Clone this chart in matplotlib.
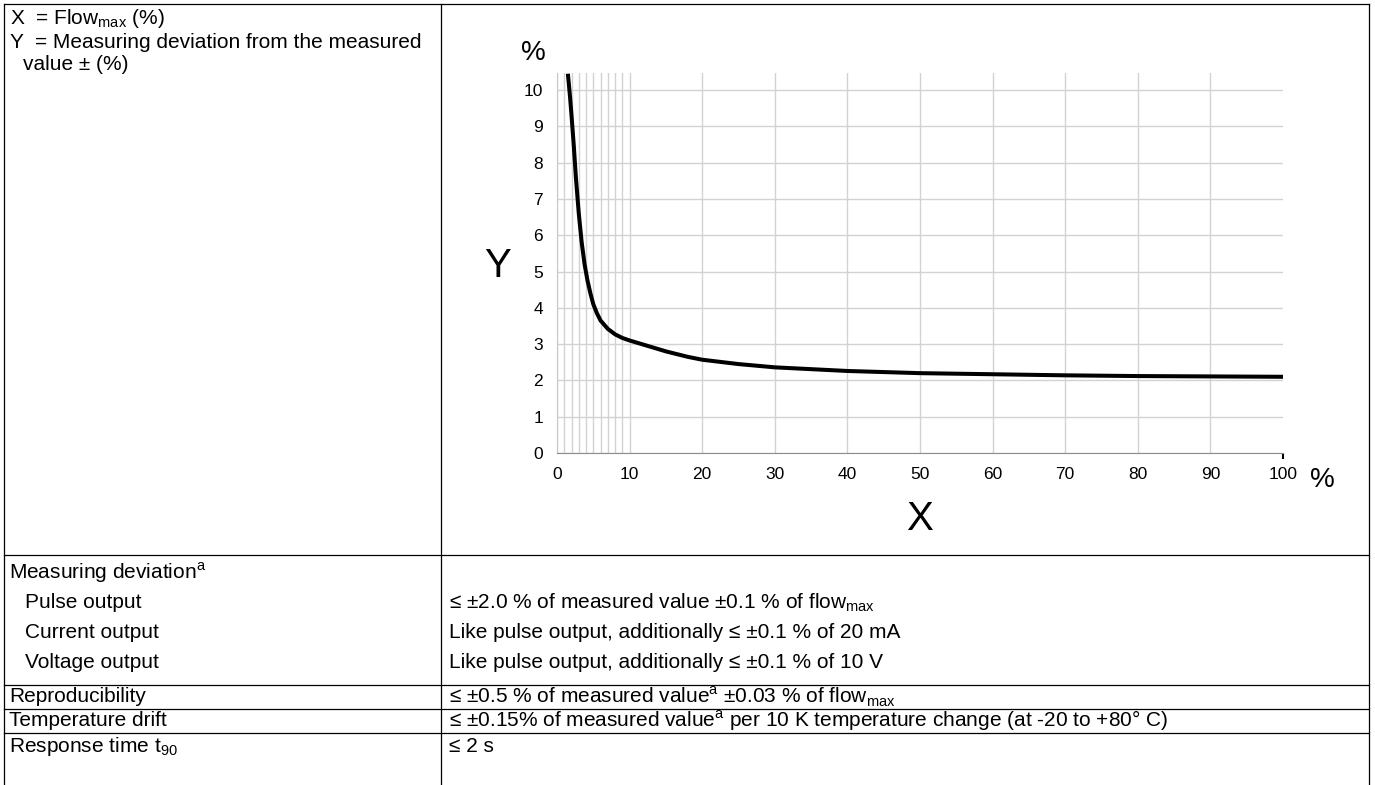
import matplotlib.pyplot as plt

plt.rcParams["font.family"] = ["Liberation Sans", "DejaVu Sans"]
plt.rcParams["mathtext.fontset"] = "custom"
plt.rcParams["mathtext.rm"] = "Liberation Sans"

# curve: flow (% of flow_max) vs deviation (%)
flow_pct = [1.5, 1.8, 2.0, 2.3, 2.6, 3.0, 3.4, 3.8, 4.2, 4.6, 5.0, 5.5, 6.0, 7.0, 8.0,
            9.0, 10, 12, 15, 18, 20, 25, 30, 40, 50, 60, 70, 80, 90, 100]
deviation_pct = [10.45, 9.8, 9.3, 8.5, 7.6, 6.6, 5.8, 5.2, 4.75, 4.4, 4.1, 3.85, 3.65,
                 3.42, 3.27, 3.17, 3.1, 2.98, 2.8, 2.65, 2.57, 2.45, 2.36, 2.26,
                 2.2, 2.17, 2.14, 2.12, 2.11, 2.1]

x_major = list(range(0, 101, 10))
x_minor = list(range(1, 10))
y_major = list(range(0, 11))

legend_lines = [
    "X  = Flow$_\\mathregular{max}$ (%)",
    "Y  = Measuring deviation from the measured",
    "value ± (%)",
]

left_col = [
    "Measuring deviation$^\\mathregular{a}$",
    "Pulse output",
    "Current output",
    "Voltage output",
    "Reproducibility",
    "Temperature drift",
    "Response time t$_\\mathregular{90}$",
]
right_col = [
    "",
    "≤ ±2.0 % of measured value ±0.1 % of flow$_\\mathregular{max}$",
    "Like pulse output, additionally ≤ ±0.1 % of 20 mA",
    "Like pulse output, additionally ≤ ±0.1 % of 10 V",
    "≤ ±0.5 % of measured value$^\\mathregular{a}$ ±0.03 % of flow$_\\mathregular{max}$",
    "≤ ±0.15% of measured value$^\\mathregular{a}$ per 10 K temperature change (at -20 to +80° C)",
    "≤ 2 s",
]
indented = [False, True, True, True, False, False, False]

W, H = 1375, 785
fig = plt.figure(figsize=(W / 100, H / 100), dpi=100)

# overlay in pixel coordinates for the table frame and texts
ov = fig.add_axes([0, 0, 1, 1])
ov.set_xlim(0, W)
ov.set_ylim(H, 0)
ov.axis("off")

ink = "black"
lw = 0.9
col_x = 441
fs = 15
row_text_y = [573, 603, 633, 663, 697, 721, 746]
row_lines = [555, 685, 709, 733]
ov.plot([4, 4], [4, H], color=ink, lw=lw)
ov.plot([1369, 1369], [4, H], color=ink, lw=lw)
ov.plot([col_x, col_x], [4, H], color=ink, lw=lw)
ov.plot([4, 1369], [4, 4], color=ink, lw=lw)
for yl in row_lines:
    ov.plot([4, 1369], [yl, yl], color=ink, lw=lw)

for i, (txt, yy) in enumerate(zip(legend_lines, [19, 42, 64])):
    ov.text(10 if i < 2 else 23, yy, txt, fontsize=fs, va="center", ha="left")

for txt, val, ind, yy in zip(left_col, right_col, indented, row_text_y):
    ov.text(25 if ind else 9, yy, txt, fontsize=fs, va="center", ha="left")
    if val:
        ov.text(449, yy, val, fontsize=fs, va="center", ha="left")

# chart
x0, x1 = 557, 1283
y0, ytop = 453, 73
ymax = 10.47
ax = fig.add_axes([x0 / W, 1 - y0 / H, (x1 - x0) / W, (y0 - ytop) / H])
ax.patch.set_visible(False)
ax.set_xlim(0, 100)
ax.set_ylim(0, ymax)
ax.set_xticks(x_major)
ax.set_xticks(x_minor, minor=True)
ax.set_yticks(y_major)
ax.grid(which="both", axis="x", color="#d2d2d2", lw=1.0)
ax.grid(which="major", axis="y", color="#d2d2d2", lw=1.0)
ax.xaxis.get_major_ticks()[-1].gridline.set_visible(False)
ax.tick_params(axis="both", which="both", length=0, labelsize=12.5)
ax.tick_params(axis="x", pad=10)
ax.tick_params(axis="y", pad=10)
last = ax.xaxis.get_major_ticks()[-1]
last.tick1line.set_markersize(4)
last.tick1line.set_markeredgewidth(1.5)
last.tick1line.set_color("#444444")
for s in ["top", "right"]:
    ax.spines[s].set_visible(False)
ax.spines["left"].set_color("#c8c8c8")
ax.spines["bottom"].set_color("#8c8c8c")
ax.set_axisbelow(True)

ax.plot(flow_pct, deviation_pct, color="black", lw=2.9, solid_capstyle="butt",
        solid_joinstyle="round", clip_on=True)

ov.text(533, 60, "%", fontsize=20, ha="center", va="baseline")
ov.text(498, 277, "Y", fontsize=29, ha="center", va="baseline")
ov.text(920, 530, "X", fontsize=29, ha="center", va="baseline")
ov.text(1322, 487, "%", fontsize=20, ha="center", va="baseline")

fig.savefig("out.png", dpi=100)
